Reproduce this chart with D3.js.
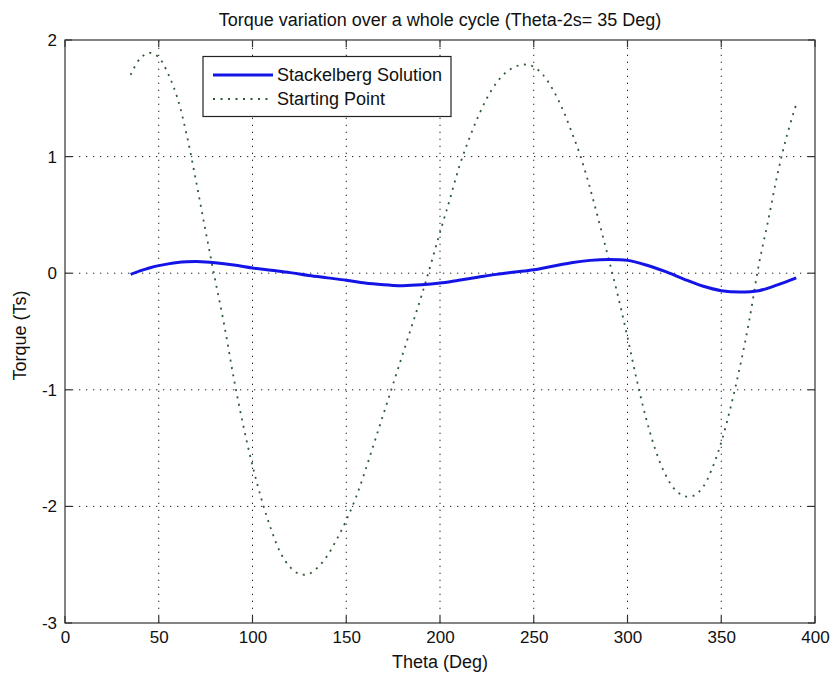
<!DOCTYPE html>
<html>
<head>
<meta charset="utf-8">
<script src="https://cdn.jsdelivr.net/npm/d3@7"></script>
<style>
  html, body { margin: 0; padding: 0; background: #ffffff; }
  svg { display: block; }
  text { font-family: "Liberation Sans", Arial, sans-serif; fill: #111; }
</style>
</head>
<body>
<svg id="chart" width="835" height="678"></svg>
<script>
// ---- data ----
const titleText = "Torque variation over a whole cycle (Theta-2s= 35 Deg)";
const xLabel = "Theta (Deg)";
const yLabel = "Torque (Ts)";
const xTicks = [0, 50, 100, 150, 200, 250, 300, 350, 400];
const yTicks = [-3, -2, -1, 0, 1, 2];
const seriesNames = ["Stackelberg Solution", "Starting Point"];

const stackTheta = [35, 40, 45, 50, 55, 60, 65, 70, 75, 80, 90, 100, 110, 120, 130, 140, 150, 160, 170, 175, 180, 190, 200, 210, 220, 230, 240, 250, 260, 270, 280, 290, 300, 310, 320, 330, 340, 350, 360, 370, 380, 390];
const stackTorque = [-0.01, 0.02, 0.045, 0.065, 0.08, 0.092, 0.098, 0.10, 0.097, 0.09, 0.07, 0.045, 0.025, 0.005, -0.02, -0.04, -0.06, -0.085, -0.10, -0.105, -0.107, -0.10, -0.085, -0.06, -0.035, -0.01, 0.01, 0.03, 0.06, 0.09, 0.11, 0.118, 0.11, 0.07, 0.015, -0.05, -0.11, -0.15, -0.162, -0.15, -0.10, -0.04];

const startTheta = [35, 40, 45, 50, 55, 60, 65, 70, 75, 80, 85, 90, 95, 100, 105, 110, 115, 120, 125, 130, 135, 140, 145, 150, 155, 160, 165, 170, 175, 180, 185, 190, 195, 200, 205, 210, 215, 220, 225, 230, 235, 240, 245, 250, 255, 260, 265, 270, 275, 280, 285, 290, 295, 300, 305, 310, 315, 320, 325, 330, 335, 340, 345, 350, 355, 360, 365, 370, 375, 380, 385, 390];
const startTorque = [1.70, 1.84, 1.89, 1.85, 1.71, 1.50, 1.18, 0.78, 0.36, -0.05, -0.45, -0.90, -1.30, -1.65, -1.95, -2.20, -2.40, -2.52, -2.58, -2.58, -2.52, -2.42, -2.28, -2.12, -1.93, -1.70, -1.45, -1.20, -0.95, -0.70, -0.45, -0.20, 0.07, 0.35, 0.62, 0.90, 1.13, 1.33, 1.50, 1.63, 1.72, 1.77, 1.79, 1.77, 1.70, 1.58, 1.42, 1.22, 1.00, 0.73, 0.43, 0.12, -0.20, -0.55, -0.92, -1.25, -1.52, -1.72, -1.85, -1.91, -1.91, -1.84, -1.68, -1.45, -1.15, -0.80, -0.40, 0.07, 0.45, 0.85, 1.18, 1.45];

// ---- layout ----
const L = 65, R = 815, T = 40, B = 623;
const svg = d3.select("#chart");
const x = d3.scaleLinear().domain([0, 400]).range([L, R]);
const y = d3.scaleLinear().domain([-3, 2]).range([B, T]);

// grid
const grid = svg.append("g").attr("stroke", "#222").attr("stroke-width", 1)
  .attr("stroke-dasharray", "1.3,5.7").attr("fill", "none");
xTicks.slice(1, -1).forEach(v => {
  grid.append("line").attr("x1", x(v)).attr("x2", x(v)).attr("y1", B).attr("y2", T);
});
yTicks.slice(1, -1).forEach(v => {
  grid.append("line").attr("x1", L).attr("x2", R).attr("y1", y(v)).attr("y2", y(v));
});

// series
const lineGen = d3.line().x(d => x(d[0])).y(d => y(d[1])).curve(d3.curveCatmullRom.alpha(0.5));
const startData = startTheta.map((t, i) => [t, startTorque[i]]);
const stackData = stackTheta.map((t, i) => [t, stackTorque[i]]);

svg.append("path").datum(startData).attr("d", lineGen)
  .attr("fill", "none").attr("stroke", "#2f5a34").attr("stroke-width", 1.8)
  .attr("stroke-dasharray", "2,5.5");
svg.append("path").datum(stackData).attr("d", lineGen)
  .attr("fill", "none").attr("stroke", "#1414e6").attr("stroke-width", 3);

// axes box
svg.append("rect").attr("x", L).attr("y", T).attr("width", R - L).attr("height", B - T)
  .attr("fill", "none").attr("stroke", "#333").attr("stroke-width", 1.2);

// inward ticks on all sides
const tk = svg.append("g").attr("stroke", "#333").attr("stroke-width", 1.2);
xTicks.forEach(v => {
  tk.append("line").attr("x1", x(v)).attr("x2", x(v)).attr("y1", B).attr("y2", B - 7);
  tk.append("line").attr("x1", x(v)).attr("x2", x(v)).attr("y1", T).attr("y2", T + 7);
});
yTicks.forEach(v => {
  tk.append("line").attr("x1", L).attr("x2", L + 7).attr("y1", y(v)).attr("y2", y(v));
  tk.append("line").attr("x1", R).attr("x2", R - 7).attr("y1", y(v)).attr("y2", y(v));
});

// tick labels via d3 axes (no lines)
const fmt = d => String(d);
const xAxis = svg.append("g").attr("transform", `translate(0,${B})`)
  .call(d3.axisBottom(x).tickValues(xTicks).tickSize(0).tickPadding(8).tickFormat(fmt));
const yAxis = svg.append("g").attr("transform", `translate(${L},0)`)
  .call(d3.axisLeft(y).tickValues(yTicks).tickSize(0).tickPadding(8).tickFormat(fmt));
[xAxis, yAxis].forEach(a => {
  a.select(".domain").remove();
  a.selectAll("text").attr("font-size", 17).attr("font-family", "Liberation Sans, Arial, sans-serif").attr("fill", "#111");
});

// title and labels
svg.append("text").attr("x", (L + R) / 2).attr("y", 26).attr("text-anchor", "middle")
  .attr("font-size", 18).text(titleText);
svg.append("text").attr("x", (L + R) / 2).attr("y", 668).attr("text-anchor", "middle")
  .attr("font-size", 18).text(xLabel);
svg.append("text").attr("transform", `translate(26,${(T + B) / 2 + 4}) rotate(-90)`)
  .attr("text-anchor", "middle").attr("font-size", 18).text(yLabel);

// legend
const lg = svg.append("g");
lg.append("rect").attr("x", 203).attr("y", 56.5).attr("width", 248).attr("height", 60)
  .attr("fill", "#fff").attr("stroke", "#222").attr("stroke-width", 1.2);
const rows = [
  { name: seriesNames[0], color: "#1414e6", w: 3, dash: null, yy: 75 },
  { name: seriesNames[1], color: "#2f5a34", w: 1.8, dash: "2,5.5", yy: 99 }
];
rows.forEach(r => {
  lg.append("line").attr("x1", 213).attr("x2", 273).attr("y1", r.yy).attr("y2", r.yy)
    .attr("stroke", r.color).attr("stroke-width", r.w).attr("stroke-dasharray", r.dash);
  lg.append("text").attr("x", 277).attr("y", r.yy + 6).attr("font-size", 18).text(r.name);
});
</script>
</body>
</html>
